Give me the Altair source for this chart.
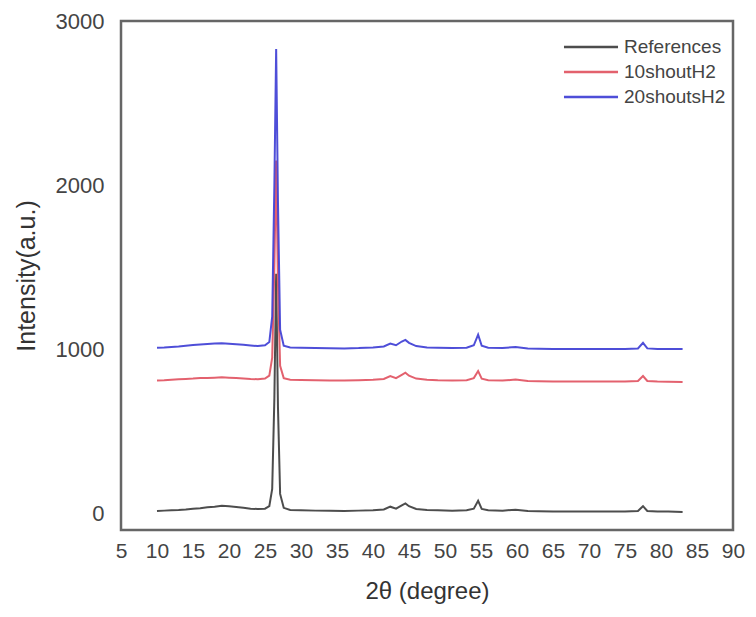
import altair as alt
import pandas as pd

two_theta = [10, 11, 12, 13, 14, 15, 16, 17, 18, 19, 20, 21, 22, 23, 24, 25,
             25.6, 26.0, 26.3, 26.55, 26.8, 27.1, 27.6, 28.5,
             30, 32, 34, 36, 38, 40,
             41.5, 42.4, 43.2, 44.0, 44.5, 45.0,
             46, 47.5, 49, 51, 53,
             54.0, 54.6, 55.1,
             56, 58, 59.8, 61.5, 63, 65, 67, 69, 71, 73, 75,
             76.8, 77.5, 78.1,
             79.5, 81, 83]

references = [15, 18, 20, 22, 25, 30, 33, 38, 42, 48, 45, 40, 35, 30, 28, 30,
              45, 150, 700, 1460, 650, 120, 35, 22,
              20, 18, 17, 16, 18, 20,
              25, 42, 30, 50, 62, 45,
              28, 22, 20, 18, 20,
              30, 78, 28,
              20, 18, 24, 16, 14, 13, 12, 12, 12, 12, 13,
              16, 45, 16,
              12, 12, 10]

shout10 = [810, 812, 815, 818, 820, 822, 825, 826, 828, 830, 828, 826, 823, 820, 818, 822,
           840, 950, 1500, 2150, 1400, 900, 825, 815,
           813, 812, 810, 810, 812, 815,
           820, 838, 825, 845, 858, 840,
           822, 815, 812, 810, 812,
           825, 868, 822,
           812, 810, 816, 808, 806, 805, 805, 805, 804, 804, 805,
           808, 838, 808,
           804, 803, 802]

shouts20 = [1010, 1012, 1015, 1018, 1022, 1026, 1030, 1033, 1036, 1038, 1035, 1032, 1028, 1024, 1020, 1025,
            1045, 1200, 2000, 2830, 1900, 1120, 1022, 1012,
            1010, 1008, 1007, 1006, 1008, 1012,
            1018, 1035, 1025, 1048, 1058, 1040,
            1020, 1012, 1010, 1008, 1010,
            1025, 1090, 1022,
            1010, 1008, 1015, 1006, 1004, 1003, 1003, 1003, 1002, 1002, 1003,
            1006, 1040, 1006,
            1002, 1003, 1002]

series_names = ["References", "10shoutH2", "20shoutsH2"]
series_colors = ["#3a3a3a", "#e0505e", "#3b3bd4"]

x_ticks = [5, 10, 15, 20, 25, 30, 35, 40, 45, 50, 55, 60, 65, 70, 75, 80, 85, 90]
y_ticks = [0, 1000, 2000, 3000]

rows = []
for name, vals in zip(series_names, [references, shout10, shouts20]):
    for xv, yv in zip(two_theta, vals):
        rows.append({"series": name, "x": xv, "y": yv})
df = pd.DataFrame(rows)

FONT = "Liberation Sans"

chart = alt.Chart(df).mark_line(strokeWidth=2, opacity=0.9).encode(
    x=alt.X("x:Q",
            scale=alt.Scale(domain=[5, 90], nice=False, zero=False),
            axis=alt.Axis(values=x_ticks, title="2θ (degree)", grid=False, ticks=False,
                          domain=False, labelFontSize=21, labelPadding=10,
                          labelFlush=False, labelOverlap=False, format="d",
                          titleFontSize=24, titlePadding=18)),
    y=alt.Y("y:Q",
            scale=alt.Scale(domain=[-100, 3000], nice=False, zero=False),
            axis=alt.Axis(values=y_ticks, title="Intensity(a.u.)", grid=False, ticks=False,
                          domain=False, labelFontSize=22, labelPadding=17,
                          labelFlush=False, labelOverlap=False, format="d",
                          titleFontSize=25, titlePadding=16)),
    color=alt.Color("series:N",
                    scale=alt.Scale(domain=series_names, range=series_colors),
                    legend=alt.Legend(title=None, orient="none", legendX=455, legendY=11,
                                      symbolType="M-2,0L2,0", symbolSize=730,
                                      symbolStrokeWidth=2.5, rowPadding=-5,
                                      labelFontSize=19, labelColor="#444",
                                      labelFont=FONT, labelOffset=18, padding=0)),
).properties(
    width=612, height=509,
    autosize=alt.AutoSizeParams(type="none"),
    padding={"left": 113, "top": 13, "right": 15, "bottom": 79},
).configure_view(
    stroke="#666", strokeWidth=2.5
).configure_axis(
    labelFont=FONT, titleFont=FONT, labelColor="#444", titleColor="#333",
    titleFontWeight="normal"
)

chart.save("out.html", embed_options={"renderer": "svg", "actions": False})
